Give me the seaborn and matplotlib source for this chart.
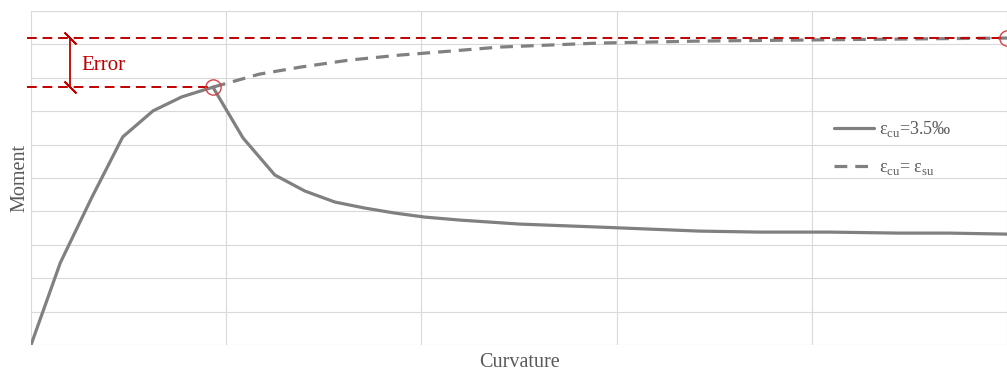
import numpy as np
import pandas as pd
import seaborn as sns
import matplotlib.pyplot as plt

# Moment-curvature data (arbitrary units)
curv_35 = [0.0, 0.15, 0.31, 0.47, 0.625, 0.773, 0.932, 1.086, 1.249, 1.403, 1.557,
           1.710, 1.864, 2.017, 2.197, 2.504, 2.913, 3.425, 3.733, 4.091, 4.450, 4.706, 5.0]
moment_35 = [0.0, 2.46, 4.4, 6.23, 7.01, 7.43, 7.72, 6.20, 5.09, 4.61, 4.28,
             4.10, 3.95, 3.83, 3.74, 3.62, 3.53, 3.41, 3.38, 3.38, 3.35, 3.35, 3.32]

curv_su = [0.932, 1.17, 1.38, 1.63, 1.89, 2.15, 2.40, 2.91, 3.43, 3.94, 4.45, 5.0]
moment_su = [7.72, 8.11, 8.32, 8.53, 8.68, 8.80, 8.92, 9.04, 9.10, 9.13, 9.16, 9.19]

err_low = 7.72
err_high = 9.19
err_x = 0.2

labels = [r"ε$_{\mathrm{cu}}$=3.5‰", r"ε$_{\mathrm{cu}}$= ε$_{\mathrm{su}}$"]

sns.set_style("whitegrid", {"grid.color": "#d9d9d9", "axes.edgecolor": "#d9d9d9"})
plt.rcParams["font.family"] = ["Liberation Serif", "DejaVu Serif"]
plt.rcParams["mathtext.fontset"] = "custom"
plt.rcParams["mathtext.rm"] = "Liberation Serif"

fig = plt.figure(figsize=(10.07, 3.71), dpi=100)
ax = fig.add_axes([31 / 1007, 26 / 371, 976 / 1007, 334 / 371])

gray = "#808080"
red = "#c00000"

df35 = pd.DataFrame({"x": curv_35, "y": moment_35})
dfsu = pd.DataFrame({"x": curv_su, "y": moment_su})
sns.lineplot(data=df35, x="x", y="y", ax=ax, color=gray, lw=2.3, label=labels[0], sort=False)
sns.lineplot(data=dfsu, x="x", y="y", ax=ax, color=gray, lw=2.3, label=labels[1],
             dashes=False, linestyle=(0, (4, 2.5)), sort=False)

# red reference levels
ax.plot([-0.02, curv_35[-1]], [err_high, err_high], color=red, lw=1.4,
        linestyle=(0, (5, 3)), clip_on=False, zorder=4)
ax.plot([-0.02, curv_su[0]], [err_low, err_low], color=red, lw=1.4,
        linestyle=(0, (5, 3)), clip_on=False, zorder=4)

# error bracket
ax.plot([err_x, err_x], [err_low, err_high], color=red, lw=1.3, zorder=5)
ax.plot([err_x, err_x], [err_low, err_high], color=red, lw=0, marker=(2, 2, 45),
        markersize=12, markeredgewidth=1.3, zorder=5)
ax.text(err_x + 0.06, (err_low + err_high) / 2 - 0.1, "Error", color=red, fontsize=15,
        va="center", ha="left")

# circles at peak values
ax.plot([curv_su[0], curv_su[-1]], [err_low, moment_su[-1]], lw=0, marker="o",
        markersize=11, markerfacecolor="none", markeredgecolor="#d24545",
        markeredgewidth=1.0, clip_on=False, zorder=6)

ax.set_xlim(0, 5)
ax.set_ylim(0, 10)
ax.set_xticks(np.arange(0, 6))
ax.set_yticks(np.arange(0, 11))
ax.tick_params(length=0, labelbottom=False, labelleft=False)
for s in ax.spines.values():
    s.set_visible(False)

ax.set_xlabel("Curvature", fontsize=14.5, color="#595959", labelpad=6)
ax.set_ylabel("Moment", fontsize=14.5, color="#595959", labelpad=1)

leg = ax.legend(loc="center left", bbox_to_anchor=(0.806, 0.59), frameon=False,
                fontsize=13, handlelength=2.2, labelspacing=1.1, handletextpad=0.3)
for t in leg.get_texts():
    t.set_color("#595959")

fig.savefig("out.png", dpi=100)
